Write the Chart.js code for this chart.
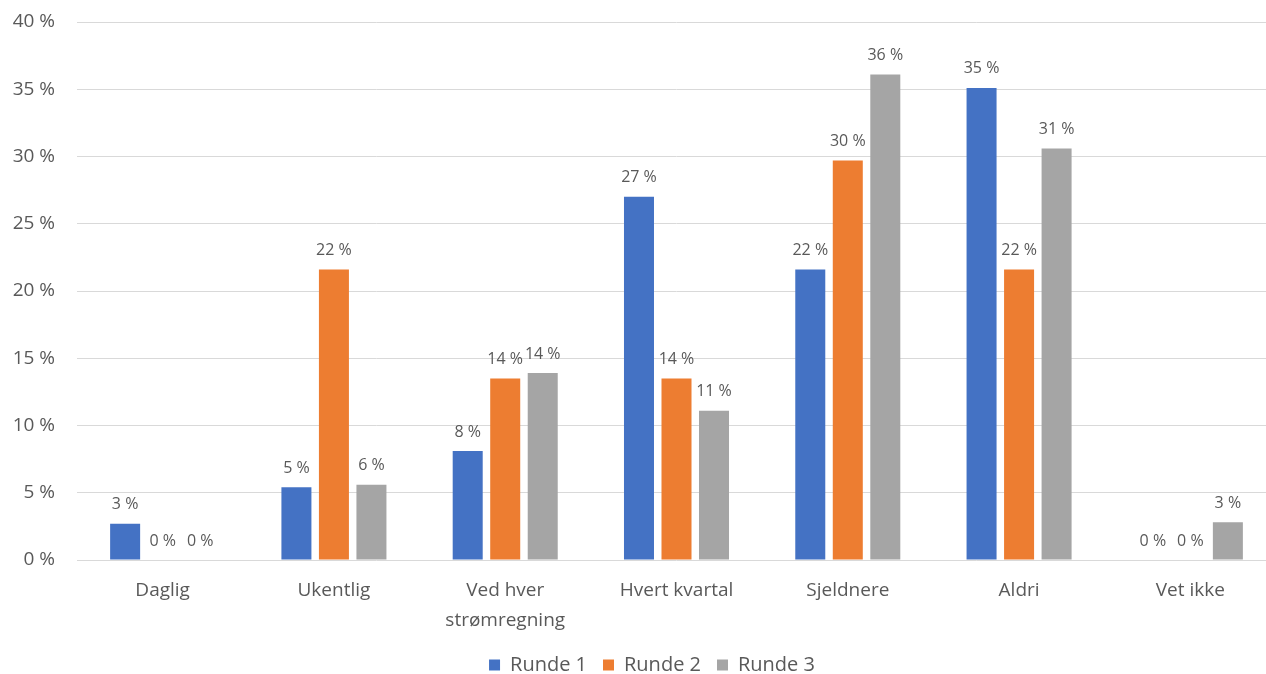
<!DOCTYPE html>
<html>
<head>
<meta charset="utf-8">
<script src="https://cdn.jsdelivr.net/npm/chart.js@4/dist/chart.umd.min.js"></script>
<style>
  html, body { margin: 0; padding: 0; background: #fff; overflow: hidden; }
  #wrap { width: 1276px; height: 700px; }
</style>
</head>
<body>
<div id="wrap"><canvas id="chart"></canvas></div>
<script>
const categories = ['Daglig', 'Ukentlig', ['Ved hver', 'strømregning'], 'Hvert kvartal', 'Sjeldnere', 'Aldri', 'Vet ikke'];
const runde1 = [2.7, 5.4, 8.1, 27.0, 21.6, 35.1, 0];
const runde2 = [0, 21.6, 13.5, 13.5, 29.7, 21.6, 0];
const runde3 = [0, 5.6, 13.9, 11.1, 36.1, 30.6, 2.8];
const seriesNames = ['Runde 1', 'Runde 2', 'Runde 3'];
const colors = ['#4472c4', '#ed7d31', '#a5a5a5'];

const textColor = '#595959';
const fontFamily = "'Open Sans', 'Liberation Sans', sans-serif";

// labels over each bar, like "27 %"
const barLabels = {
  id: 'barLabels',
  afterDatasetsDraw(chart) {
    const ctx = chart.ctx;
    ctx.save();
    ctx.font = '16px ' + fontFamily;
    ctx.fillStyle = textColor;
    ctx.textAlign = 'center';
    ctx.textBaseline = 'middle';
    chart.data.datasets.forEach((ds, i) => {
      chart.getDatasetMeta(i).data.forEach((bar, j) => {
        ctx.fillText(Math.round(ds.data[j]) + ' %', bar.x, bar.y - 19);
      });
    });
    ctx.restore();
  }
};

// the legend sits a bit right of the canvas middle in the original
const nudgeLegend = {
  id: 'nudgeLegend',
  afterLayout(chart) {
    chart.legend.left += 14;
    chart.legend.right += 14;
  }
};

new Chart(document.getElementById('chart'), {
  type: 'bar',
  data: {
    labels: categories,
    datasets: [
      { label: seriesNames[0], data: runde1, backgroundColor: colors[0] },
      { label: seriesNames[1], data: runde2, backgroundColor: colors[1] },
      { label: seriesNames[2], data: runde3, backgroundColor: colors[2] }
    ]
  },
  options: {
    responsive: true,
    maintainAspectRatio: false,
    animation: false,
    datasets: {
      bar: { barPercentage: 0.8, categoryPercentage: 0.657 }
    },
    layout: { padding: { top: 0, right: 0, bottom: 15, left: 0 } },
    plugins: {
      legend: {
        position: 'bottom',
        labels: {
          color: textColor,
          font: { size: 20, family: fontFamily },
          boxWidth: 11,
          boxHeight: 11,
          padding: 16
        }
      },
      tooltip: { enabled: false }
    },
    scales: {
      x: {
        afterFit(scale) { scale.height = 79; },
        grid: { display: false },
        border: { display: false },
        ticks: {
          color: textColor,
          font: { size: 19, family: fontFamily, lineHeight: 1.55 },
          padding: 8,
          maxRotation: 0
        }
      },
      y: {
        min: 0,
        max: 40,
        afterFit(scale) {
          scale.width = 77;
          scale.paddingTop = 22;
        },
        grid: { color: '#d9d9d9', lineWidth: 1, drawTicks: false },
        border: { display: false },
        ticks: {
          stepSize: 5,
          color: textColor,
          font: { size: 19, family: fontFamily },
          padding: 22,
          callback: v => v + ' %'
        }
      }
    }
  },
  plugins: [barLabels, nudgeLegend]
});
</script>
</body>
</html>
